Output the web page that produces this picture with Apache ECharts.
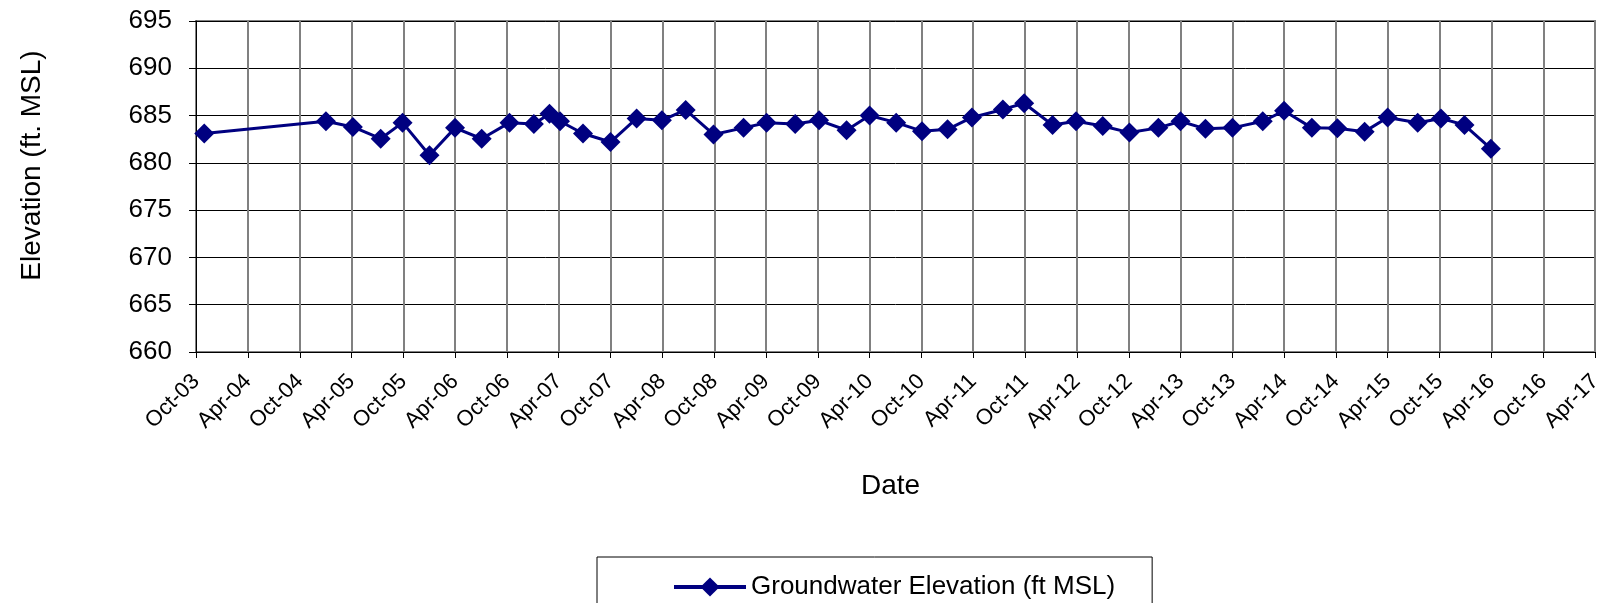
<!DOCTYPE html>
<html>
<head>
<meta charset="utf-8">
<script src="https://cdn.jsdelivr.net/npm/echarts@6/dist/echarts.min.js"></script>
<style>
  html, body { margin: 0; padding: 0; background: #fff; }
  #chart { width: 1606px; height: 603px; }
</style>
</head>
<body>
<div id="chart"></div>
<script>
// sampling dates and groundwater elevations (ft MSL)
var dates = ['2003-10-30','2005-01-01','2005-04-06','2005-07-13','2005-09-28',
  '2006-01-01','2006-04-01','2006-07-04','2006-10-10',
  '2007-01-04','2007-02-28','2007-04-06','2007-06-26','2007-10-01',
  '2008-01-01','2008-03-30','2008-06-22','2008-09-28',
  '2009-01-12','2009-04-03','2009-07-13','2009-10-05',
  '2010-01-10','2010-04-01','2010-07-04','2010-10-03',
  '2011-01-01','2011-03-28','2011-07-15','2011-09-28',
  '2012-01-06','2012-03-29','2012-07-01','2012-10-03',
  '2013-01-13','2013-04-01','2013-06-28','2013-10-01',
  '2014-01-16','2014-04-01','2014-07-08','2014-10-06',
  '2015-01-10','2015-04-01','2015-07-16','2015-10-06','2015-12-28',
  '2016-03-30'];
var elevations = [683.1,684.4,683.8,682.55,684.25,
  680.8,683.7,682.55,684.25,
  684.1,685.2,684.4,683.1,682.2,
  684.7,684.5,685.6,683.0,
  683.7,684.25,684.1,684.5,
  683.45,685.0,684.25,683.35,
  683.55,684.8,685.65,686.3,
  684.0,684.4,683.9,683.2,
  683.7,684.4,683.6,683.7,
  684.4,685.5,683.7,683.65,
  683.3,684.8,684.25,684.7,684.0,
  681.5];
var tickLabels = ['Oct-03','Apr-04','Oct-04','Apr-05','Oct-05','Apr-06','Oct-06','Apr-07',
  'Oct-07','Apr-08','Oct-08','Apr-09','Oct-09','Apr-10','Oct-10','Apr-11','Oct-11','Apr-12',
  'Oct-12','Apr-13','Oct-13','Apr-14','Oct-14','Apr-15','Oct-15','Apr-16','Oct-16','Apr-17'];
var yTicks = [660, 665, 670, 675, 680, 685, 690, 695];

var MONTHS = {Jan:0,Feb:1,Mar:2,Apr:3,May:4,Jun:5,Jul:6,Aug:7,Sep:8,Oct:9,Nov:10,Dec:11};
function labelToTime(lbl){
  var p = lbl.split('-');
  return Date.UTC(2000 + parseInt(p[1], 10), MONTHS[p[0]], 1);
}
function dateToTime(s){
  var p = s.split('-');
  return Date.UTC(+p[0], +p[1] - 1, +p[2]);
}
var tickTimes = tickLabels.map(labelToTime);
var seriesData = dates.map(function(d, i){ return [dateToTime(d), elevations[i]]; });

var FONT = '"Liberation Sans", Arial, sans-serif';
var chart = echarts.init(document.getElementById('chart'));
chart.setOption({
  animation: false,
  backgroundColor: '#fff',
  grid: {
    left: 196, right: 11, top: 21, bottom: 251,
    show: true, borderColor: '#808080', borderWidth: 2, backgroundColor: 'transparent'
  },
  xAxis: {
    type: 'value',
    min: tickTimes[0],
    max: tickTimes[tickTimes.length - 1],
    name: 'Date',
    nameLocation: 'middle',
    nameGap: 120,
    nameTextStyle: { fontFamily: FONT, fontSize: 28, color: '#000', padding: [0, 10, 0, 0] },
    axisLine: { show: true, onZero: false, lineStyle: { color: '#000', width: 1 } },
    axisTick: { show: true, length: 6, customValues: tickTimes, lineStyle: { color: '#000' } },
    axisLabel: {
      customValues: tickTimes,
      rotate: 45,
      margin: 26,
      fontFamily: FONT, fontSize: 22, color: '#000',
      formatter: function(v){
        var i = tickTimes.indexOf(v);
        return i >= 0 ? tickLabels[i] : '';
      }
    },
    splitLine: { show: true, lineStyle: { color: '#808080', width: 2 } }
  },
  yAxis: {
    type: 'value',
    min: yTicks[0],
    max: yTicks[yTicks.length - 1],
    interval: 5,
    name: 'Elevation (ft. MSL)',
    nameLocation: 'middle',
    nameGap: 150,
    nameTextStyle: { fontFamily: FONT, fontSize: 28, color: '#000', padding: [0, 0, 0, 42] },
    axisLine: { show: true, lineStyle: { color: '#000', width: 1 } },
    axisTick: { show: true, length: 7, lineStyle: { color: '#000' } },
    axisLabel: { margin: 24, fontFamily: FONT, fontSize: 26, color: '#000' },
    splitLine: { show: true, lineStyle: { color: '#000', width: 1 } }
  },
  legend: {
    left: 597,
    top: 557,
    padding: [17, 37, 40, 75],
    borderColor: '#000',
    borderWidth: 1,
    itemWidth: 72,
    itemHeight: 24,
    lineStyle: { width: 4 },
    textStyle: { fontFamily: FONT, fontSize: 26, color: '#000' },
    data: ['Groundwater Elevation (ft MSL)']
  },
  series: [{
    name: 'Groundwater Elevation (ft MSL)',
    type: 'line',
    data: seriesData,
    symbol: 'diamond',
    symbolSize: 20,
    color: '#000080',
    lineStyle: { color: '#000080', width: 3 },
    itemStyle: { color: '#000080' }
  }]
});
</script>
</body>
</html>
